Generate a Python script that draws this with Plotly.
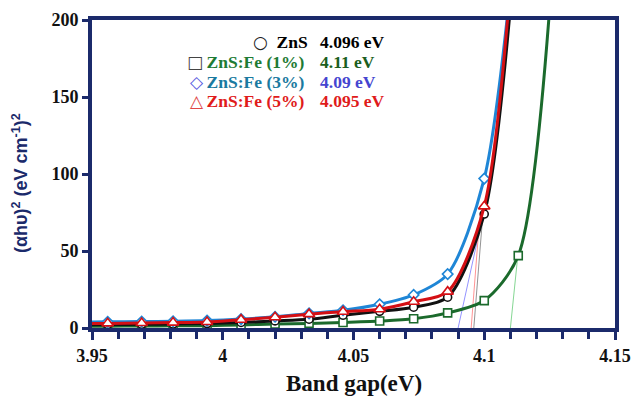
import plotly.graph_objects as go

# Photon energy (eV) of the measured points
energy = [3.943, 3.956, 3.969, 3.981, 3.994, 4.007, 4.020, 4.033, 4.046, 4.060,
          4.073, 4.086, 4.100, 4.113, 4.127]

# (alpha h nu)^2 values
zns    = [2.1, 2.2, 2.4, 2.6, 2.9, 3.6, 4.6, 5.7, 8.3, 10.8, 13.5, 20.0, 74.0, 270.0]
fe1    = [1.1, 1.2, 1.3, 1.4, 1.5, 2.0, 2.6, 3.0, 3.6, 4.5, 6.0, 9.8, 17.8, 47.0, 255.0]
fe3    = [3.9, 4.0, 4.2, 4.4, 4.8, 5.8, 7.3, 9.5, 11.5, 15.4, 21.5, 35.0, 97.0, 272.0]
fe5    = [2.9, 3.0, 3.2, 3.5, 3.9, 5.4, 7.0, 9.0, 10.6, 12.2, 17.0, 23.6, 79.0, 290.0]

names = ["ZnS", "ZnS:Fe (1%)", "ZnS:Fe (3%)", "ZnS:Fe (5%)"]
band_gap = [4.096, 4.11, 4.09, 4.095]
band_gap_text = ["4.096", "4.11", "4.09", "4.095"]
# tangent (Tauc) line upper ends: energy, value
tangent_top_e = [4.0994, 4.1128, 4.0977, 4.0984]
tangent_top_v = [72.4, 46.4, 59.4, 74.8]

x_ticks = [3.95, 4.0, 4.05, 4.1, 4.15]
x_tick_text = ["3.95", "4", "4.05", "4.1", "4.15"]
y_ticks = [0, 50, 100, 150, 200]

line_colors = ["#111111", "#1b6a2c", "#1f86d6", "#d40f14"]
thin_colors = ["#777777", "#66cc77", "#7777ff", "#ff7777"]
symbols = ["circle", "square", "diamond", "triangle-up"]
name_colors = ["#000000", "#1e7b34", "#1a7aa0", "#e01b1b"]
value_colors = ["#000000", "#1b5e20", "#4545d0", "#e01b1b"]
sym_glyphs = ["○", "□", "◇", "△"]
sym_colors = ["#222222", "#444444", "#5a5ae0", "#e04545"]

series = [zns, fe1, fe3, fe5]
order = [1, 0, 2, 3]  # drawing order: green, black, blue, red

fig = go.Figure()

# thin tangent lines
for i in range(4):
    fig.add_trace(go.Scatter(
        x=[band_gap[i], tangent_top_e[i]], y=[0, tangent_top_v[i]],
        mode="lines", line=dict(color=thin_colors[i], width=0.8),
        showlegend=False, hoverinfo="skip"))

for i in order:
    ys = series[i]
    fig.add_trace(go.Scatter(
        x=energy[:len(ys)], y=ys, mode="lines+markers", name=names[i],
        line=dict(color=line_colors[i], width=3, shape="spline", smoothing=0.8),
        marker=dict(symbol=symbols[i], size=8 if i != 3 else 10,
                    color="white", line=dict(color=line_colors[i], width=1.6)),
        showlegend=False))

axis_color = "#1b2a6b"

fig.update_xaxes(
    range=[3.95, 4.15], tickvals=x_ticks, ticktext=x_tick_text,
    ticks="outside", ticklen=8, tickwidth=3, tickcolor=axis_color,
    minor=dict(dtick=0.01, tick0=3.95, ticks="outside", ticklen=7, tickwidth=2.5,
               tickcolor=axis_color),
    showline=True, linecolor=axis_color, linewidth=4, mirror=True,
    showgrid=False, zeroline=False, automargin=False,
    tickfont=dict(family="Liberation Serif", size=18, color="#111111", weight="bold"),
)
fig.update_yaxes(
    range=[0, 200], tickvals=y_ticks,
    ticks="outside", ticklen=6, tickwidth=3, tickcolor=axis_color,
    showline=True, linecolor=axis_color, linewidth=4, mirror=True,
    showgrid=False, zeroline=False, automargin=False,
    tickfont=dict(family="Liberation Serif", size=18, color="#111111", weight="bold"),
)

# axis titles
fig.add_annotation(
    xref="paper", yref="paper", x=0.5, y=-0.18, xanchor="center", yanchor="middle",
    text="<b>Band gap(eV)</b>", showarrow=False,
    font=dict(family="Liberation Serif", size=23, color="#111111"))
fig.add_annotation(
    xref="paper", yref="paper", x=-0.138, y=0.47, xanchor="center", yanchor="middle",
    text="<b>(αhυ)<sup>2</sup> (eV cm<sup>-1</sup>)<sup>2</sup></b>", showarrow=False,
    textangle=-90, font=dict(family="Liberation Sans", size=18, color=axis_color))

# legend as text
rows_y = [0.9286, 0.8636, 0.7987, 0.737]
gaps = ["  ", "\u2009", "\u2009", "\u2009"]
for i in range(4):
    fig.add_annotation(
        xref="paper", yref="paper", x=0.416 if i == 0 else 0.41, y=rows_y[i],
        xanchor="right", yanchor="middle",
        text=f"<span style='color:{sym_colors[i]};font-family:DejaVu Sans;font-size:17px'>{sym_glyphs[i]}</span>"
             f"{gaps[i]}<b><span style='color:{name_colors[i]}'>{names[i]}</span></b>",
        showarrow=False, font=dict(family="Liberation Serif", size=17.5, color=name_colors[i]))
    fig.add_annotation(
        xref="paper", yref="paper", x=0.4321, y=rows_y[i], xanchor="left", yanchor="middle",
        text=f"<b>{band_gap_text[i]} eV</b>",
        showarrow=False, font=dict(family="Liberation Serif", size=17.5, color=value_colors[i]))

fig.update_layout(
    width=634, height=397,
    margin=dict(l=92, r=19, t=20, b=69),
    paper_bgcolor="white", plot_bgcolor="white",
)

fig.write_html("out.html")
